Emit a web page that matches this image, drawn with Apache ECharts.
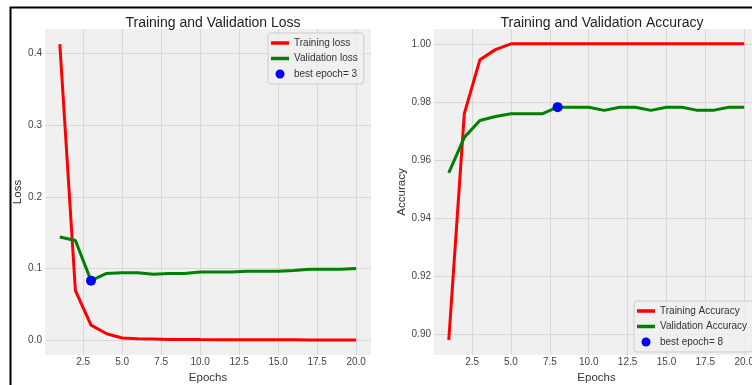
<!DOCTYPE html>
<html>
<head>
<meta charset="utf-8">
<script src="https://cdn.jsdelivr.net/npm/echarts@6/dist/echarts.min.js"></script>
<style>
  html, body { margin: 0; padding: 0; background: #fff; }
  #chart { width: 752px; height: 385px; }
</style>
</head>
<body>
<div id="chart"></div>
<script>
// epochs and history values
const epochs = [1, 2, 3, 4, 5, 6, 7, 8, 9, 10, 11, 12, 13, 14, 15, 16, 17, 18, 19, 20];
const trainLoss = [0.413, 0.069, 0.021, 0.009, 0.003, 0.002, 0.0015, 0.001, 0.001, 0.0008,
  0.0007, 0.0006, 0.0005, 0.0005, 0.0004, 0.0004, 0.0003, 0.0003, 0.0003, 0.0003];
const valLoss = [0.144, 0.139, 0.083, 0.093, 0.094, 0.094, 0.092, 0.093, 0.093, 0.095,
  0.095, 0.095, 0.096, 0.096, 0.096, 0.097, 0.099, 0.099, 0.099, 0.100];
const trainAcc = [0.898, 0.976, 0.9945, 0.998, 1.0, 1.0, 1.0, 1.0, 1.0, 1.0,
  1.0, 1.0, 1.0, 1.0, 1.0, 1.0, 1.0, 1.0, 1.0, 1.0];
const valAcc = [0.9556, 0.9678, 0.9736, 0.975, 0.9759, 0.9759, 0.9759, 0.9782, 0.9782, 0.9782,
  0.9771, 0.9782, 0.9782, 0.9771, 0.9782, 0.9782, 0.9771, 0.9771, 0.9782, 0.9782];
const bestLoss = [3, 0.083];
const bestAcc = [8, 0.9782];

// tick labels
const xTicks = [2.5, 5, 7.5, 10, 12.5, 15, 17.5, 20];
const lossTicks = [0, 0.1, 0.2, 0.3, 0.4];
const accTicks = [0.90, 0.92, 0.94, 0.96, 0.98, 1.00];

const pairs = (ys) => epochs.map((e, i) => [e, ys[i]]);

const FONT = 'Liberation Sans';
const gridColor = '#d8d8d8';
// thick bar icon for the line entries (the lone M points pad the box to 18x9)
const LINE_ICON = 'path://M0,0 M18,9 M0,2.75 L18,2.75 L18,6.25 L0,6.25 Z';

function xAxisOf(gridIndex) {
  return {
    type: 'value', gridIndex: gridIndex,
    min: 0.05, max: 20.95,
    name: 'Epochs', nameLocation: 'middle', nameGap: 16,
    nameTextStyle: { fontFamily: FONT, fontSize: 11.5, color: '#333' },
    axisLine: { show: false },
    axisTick: { show: false, customValues: xTicks },
    axisLabel: {
      customValues: xTicks, margin: 2,
      fontFamily: FONT, fontSize: 10, color: '#444',
      formatter: v => v.toFixed(1)
    },
    splitLine: { show: true, lineStyle: { color: gridColor, width: 1 } }
  };
}

function yAxisOf(gridIndex, name, min, max, ticks, digits, gap) {
  return {
    type: 'value', gridIndex: gridIndex,
    min: min, max: max,
    name: name, nameLocation: 'middle', nameGap: gap,
    nameTextStyle: { fontFamily: FONT, fontSize: 11.5, color: '#333' },
    axisLine: { show: false },
    axisTick: { show: false, customValues: ticks },
    axisLabel: {
      customValues: ticks, margin: 3,
      fontFamily: FONT, fontSize: 10, color: '#444',
      formatter: v => v.toFixed(digits)
    },
    splitLine: { show: true, lineStyle: { color: gridColor, width: 1 } }
  };
}

function legendOf(left, top, names) {
  return {
    left: left, top: top, orient: 'vertical',
    data: [
      { name: names[0], icon: LINE_ICON },
      { name: names[1], icon: LINE_ICON },
      { name: names[2], icon: 'circle' }
    ],
    itemWidth: 18, itemHeight: 9, itemGap: 3.5,
    padding: [4, 6, 4, 3],
    backgroundColor: 'rgba(240,240,240,0.8)',
    borderColor: '#cccccc', borderWidth: 1, borderRadius: 3,
    textStyle: { fontFamily: FONT, fontSize: 10, color: '#333', lineHeight: 12 },
    selectedMode: false
  };
}

const chart = echarts.init(document.getElementById('chart'));
chart.setOption({
  animation: false,
  backgroundColor: '#ffffff',
  title: [
    { text: 'Training and Validation Loss', left: 208, top: 11, textAlign: 'center',
      textStyle: { fontFamily: FONT, fontSize: 14, fontWeight: 'normal', color: '#222' } },
    { text: 'Training and Validation Accuracy', left: 597, top: 11, textAlign: 'center',
      textStyle: { fontFamily: FONT, fontSize: 14, fontWeight: 'normal', color: '#222' } }
  ],
  grid: [
    { left: 45, top: 29, width: 326, height: 326, outerBoundsMode: 'none',
      show: true, backgroundColor: '#f0f0f0', borderWidth: 0 },
    { left: 434, top: 29, width: 325, height: 326, outerBoundsMode: 'none',
      show: true, backgroundColor: '#f0f0f0', borderWidth: 0 }
  ],
  xAxis: [xAxisOf(0), xAxisOf(1)],
  yAxis: [
    yAxisOf(0, 'Loss', -0.0207, 0.434, lossTicks, 1, 14),
    yAxisOf(1, 'Accuracy', 0.8929, 1.0051, accTicks, 2, 21)
  ],
  legend: [
    legendOf(268, 33, ['Training loss', 'Validation loss', 'best epoch= 3']),
    legendOf(634, 301, ['Training Accuracy', 'Validation Accuracy', 'best epoch= 8'])
  ],
  series: [
    { name: 'Training loss', type: 'line', xAxisIndex: 0, yAxisIndex: 0, data: pairs(trainLoss),
      symbol: 'none', lineStyle: { color: '#ff0000', width: 3 }, itemStyle: { color: '#ff0000' } },
    { name: 'Validation loss', type: 'line', xAxisIndex: 0, yAxisIndex: 0, data: pairs(valLoss),
      symbol: 'none', lineStyle: { color: '#008000', width: 3 }, itemStyle: { color: '#008000' } },
    { name: 'best epoch= 3', type: 'scatter', xAxisIndex: 0, yAxisIndex: 0, data: [bestLoss],
      symbolSize: 10, itemStyle: { color: '#0000ff', opacity: 1 }, z: 5 },
    { name: 'Training Accuracy', type: 'line', xAxisIndex: 1, yAxisIndex: 1, data: pairs(trainAcc),
      symbol: 'none', lineStyle: { color: '#ff0000', width: 3 }, itemStyle: { color: '#ff0000' } },
    { name: 'Validation Accuracy', type: 'line', xAxisIndex: 1, yAxisIndex: 1, data: pairs(valAcc),
      symbol: 'none', lineStyle: { color: '#008000', width: 3 }, itemStyle: { color: '#008000' } },
    { name: 'best epoch= 8', type: 'scatter', xAxisIndex: 1, yAxisIndex: 1, data: [bestAcc],
      symbolSize: 10, itemStyle: { color: '#0000ff', opacity: 1 }, z: 5 }
  ],
  // black frame of the screenshot
  graphic: [
    { type: 'polyline', z: 100, shape: { points: [[10.5, 385], [10.5, 7.5], [752, 7.5]] },
      style: { stroke: '#000', lineWidth: 2, fill: null } }
  ]
});
</script>
</body>
</html>
